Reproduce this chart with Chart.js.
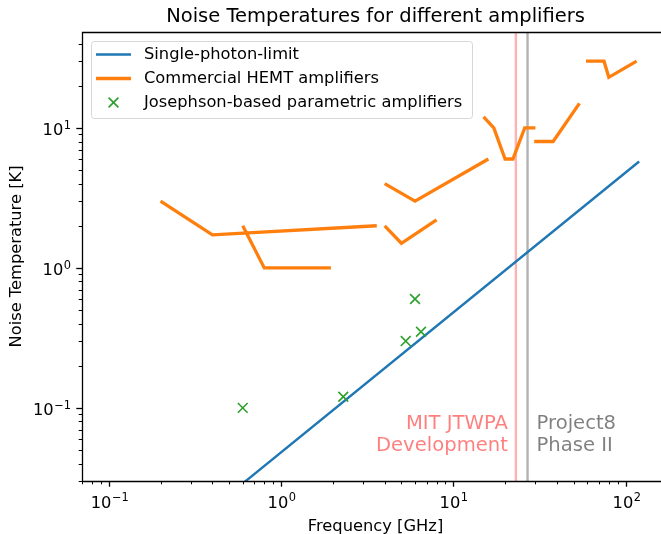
<!DOCTYPE html>
<html>
<head>
<meta charset="utf-8">
<script src="https://cdn.jsdelivr.net/npm/chart.js@4/dist/chart.umd.min.js"></script>
<style>
  html, body { margin: 0; padding: 0; background: #fff; overflow: hidden; }
</style>
</head>
<body>
<canvas id="myNoiseChart" width="661" height="534"></canvas>
<script>
const photonFreq = [0.5, 120];
const photonTemp = [0.024, 5.76];

// HEMT amplifiers, a null ends one amplifier's curve
const hemtFreq = [0.2, 0.4, 3.6, null, 0.6, 0.8, 1.95, null, 4, 6, 16, null, 4, 5, 8, null,
  15, 17.2, 20, 22.2, 26, 30, null, 29.5, 38, 54, null, 59, 75, 80, 116];
const hemtTemp = [3, 1.72, 2, null, 2, 1, 1, null, 4, 3, 6, null, 2, 1.5, 2.2, null,
  12, 10, 6, 6, 10, 10, null, 8, 8, 15, null, 30, 30, 23, 30];

const jpaFreq = [0.6, 2.3, 6, 5.3, 6.5];
const jpaTemp = [0.1, 0.12, 0.6, 0.3, 0.35];

const mitFreq = 23.1;
const project8Freq = 27;
const mitText = ["MIT JTWPA", "Development"];
const project8Text = ["Project8", "Phase II"];

// the axes run a little past the right edge of the picture
const xRange = [0.07, 160.7];
const xFullMax = 179;
const yRange = [0.03, 48.5];

const chartTitle = "Noise Temperatures for different amplifiers";
const xTitle = "Frequency [GHz]";
const yTitle = "Noise Temperature [K]";

const FONT = "'DejaVu Sans', sans-serif";
Chart.defaults.font.family = FONT;
Chart.defaults.color = "#000";

function toPoints(xs, ys) {
  let lastX = xs[0];
  return xs.map((x, i) => {
    if (x === null) return { x: lastX, y: null };
    lastX = x;
    return { x: x, y: ys[i] };
  });
}

function decade(v) {
  const e = Math.log10(v);
  const r = Math.round(e);
  return Math.abs(e - r) < 1e-9 ? r : null;
}

function isLogTick(v) {
  const e = Math.floor(Math.log10(v) + 1e-9);
  const s = v / Math.pow(10, e);
  return Math.abs(s - Math.round(s)) < 1e-6;
}

// draws "10" with a raised exponent; align is "center" or "right"
function drawPower(ctx, exp, x, baseline, align) {
  const fs = 16.3, sfs = 11.4;
  const supText = String(exp).replace("-", "\u2212");
  ctx.font = fs + "px " + FONT;
  const w1 = ctx.measureText("10").width;
  ctx.font = sfs + "px " + FONT;
  const w2 = ctx.measureText(supText).width;
  const start = align === "center" ? x - (w1 + w2) / 2 : x - (w1 + w2);
  ctx.textAlign = "left";
  ctx.textBaseline = "alphabetic";
  ctx.font = fs + "px " + FONT;
  ctx.fillText("10", start, baseline);
  ctx.font = sfs + "px " + FONT;
  ctx.fillText(supText, start + w1 + 0.5, baseline - 6.2);
}

const decorPlugin = {
  id: "decor",
  afterDraw(chart) {
    const ctx = chart.ctx;
    const a = chart.chartArea;
    const xs = chart.scales.x;
    const ys = chart.scales.y;
    const fullRight = xs.getPixelForValue(xFullMax);
    const midX = (a.left + fullRight) / 2;
    ctx.save();

    // ticks and tick labels
    ctx.strokeStyle = "#000";
    ctx.fillStyle = "#000";
    xs.ticks.forEach(t => {
      if (!isLogTick(t.value) || t.value < xRange[0] || t.value > xRange[1]) return;
      const d = decade(t.value);
      const px = Math.round(xs.getPixelForValue(t.value)) + 0.5;
      ctx.lineWidth = d !== null ? 1.3 : 1;
      ctx.beginPath();
      ctx.moveTo(px, a.bottom);
      ctx.lineTo(px, a.bottom + (d !== null ? 5.7 : 3.3));
      ctx.stroke();
      if (d !== null) drawPower(ctx, d, px, 507.5, "center");
    });
    ys.ticks.forEach(t => {
      if (!isLogTick(t.value) || t.value < yRange[0] || t.value > yRange[1]) return;
      const d = decade(t.value);
      const py = Math.round(ys.getPixelForValue(t.value)) + 0.5;
      ctx.lineWidth = d !== null ? 1.3 : 1;
      ctx.beginPath();
      ctx.moveTo(a.left, py);
      ctx.lineTo(a.left - (d !== null ? 5.7 : 3.3), py);
      ctx.stroke();
      if (d !== null) drawPower(ctx, d, a.left - 11.5, py + 6.3, "right");
    });

    // spines (the right one is outside the picture)
    ctx.lineWidth = 1.3;
    ctx.strokeStyle = "#000";
    ctx.beginPath();
    ctx.moveTo(a.right + 5, a.top + 0.5);
    ctx.lineTo(a.left + 0.5, a.top + 0.5);
    ctx.lineTo(a.left + 0.5, a.bottom + 0.5);
    ctx.lineTo(a.right + 5, a.bottom + 0.5);
    ctx.stroke();

    // annotations next to the vertical lines
    ctx.font = "19.6px " + FONT;
    ctx.textBaseline = "alphabetic";
    const mx = xs.getPixelForValue(mitFreq);
    const p8x = xs.getPixelForValue(project8Freq);
    ctx.fillStyle = "rgba(255,0,0,0.5)";
    ctx.textAlign = "right";
    mitText.forEach((s, i) => ctx.fillText(s, mx - 8, 428.5 + i * 22.5));
    ctx.fillStyle = "rgba(0,0,0,0.5)";
    ctx.textAlign = "left";
    project8Text.forEach((s, i) => ctx.fillText(s, p8x + 9, 428.5 + i * 22.5));

    // legend
    const lx = 91.5, ly = 41.5, lw = 381, lh = 77;
    ctx.beginPath();
    ctx.roundRect(lx, ly, lw, lh, 3);
    ctx.fillStyle = "rgba(255,255,255,0.8)";
    ctx.fill();
    ctx.lineWidth = 1;
    ctx.strokeStyle = "#d6d6d6";
    ctx.stroke();
    ctx.font = "16.3px " + FONT;
    ctx.textAlign = "left";
    ctx.textBaseline = "middle";
    chart.data.datasets.slice(0, 3).forEach((ds, i) => {
      const ry = 54.5 + i * 24;
      ctx.strokeStyle = ds.borderColor;
      if (ds.showLine === false) {
        ctx.lineWidth = ds.pointBorderWidth;
        const r = 4.9;
        ctx.beginPath();
        ctx.moveTo(113.5 - r, ry - r); ctx.lineTo(113.5 + r, ry + r);
        ctx.moveTo(113.5 - r, ry + r); ctx.lineTo(113.5 + r, ry - r);
        ctx.stroke();
      } else {
        ctx.lineWidth = ds.borderWidth;
        ctx.beginPath();
        ctx.moveTo(96, ry); ctx.lineTo(131, ry);
        ctx.stroke();
      }
      ctx.fillStyle = "#000";
      ctx.fillText(ds.label, 144, ry);
    });

    // x axis title, centred on the whole axes
    ctx.font = "16.3px " + FONT;
    ctx.textAlign = "center";
    ctx.textBaseline = "alphabetic";
    ctx.fillText(xTitle, midX, 530.5);

    // title
    ctx.font = "19.5px " + FONT;
    ctx.fillText(chartTitle, midX, 22);
    ctx.restore();
  }
};

const noiseChart = document.getElementById("myNoiseChart").getContext("2d");
let myChart1 = new Chart(noiseChart, {
  type: "line",
  data: {
    datasets: [
      {
        label: "Single-photon-limit",
        data: toPoints(photonFreq, photonTemp),
        borderColor: "#1f77b4",
        borderWidth: 2.4,
        pointRadius: 0,
        order: 3,
      },
      {
        label: "Commercial HEMT amplifiers",
        data: toPoints(hemtFreq, hemtTemp),
        borderColor: "#ff7f0e",
        borderWidth: 3.3,
        pointRadius: 0,
        spanGaps: false,
        order: 2,
      },
      {
        label: "Josephson-based parametric amplifiers",
        data: toPoints(jpaFreq, jpaTemp),
        borderColor: "#2ca02c",
        showLine: false,
        pointStyle: "crossRot",
        pointRadius: 6.9,
        pointBorderWidth: 1.6,
        pointBorderColor: "#2ca02c",
        order: 1,
      },
      {
        label: "MIT JTWPA",
        data: toPoints([mitFreq, mitFreq], yRange),
        borderColor: "rgba(255,0,0,0.3)",
        borderWidth: 2.4,
        pointRadius: 0,
        order: 10,
      },
      {
        label: "Project8",
        data: toPoints([project8Freq, project8Freq], yRange),
        borderColor: "rgba(0,0,0,0.3)",
        borderWidth: 2.4,
        pointRadius: 0,
        order: 10,
      },
    ],
  },
  options: {
    responsive: false,
    animation: false,
    devicePixelRatio: 1,
    layout: { autoPadding: false, padding: { top: 32, right: 0, left: 0, bottom: 0 } },
    plugins: {
      legend: { display: false },
      title: { display: false },
      tooltip: { enabled: false },
    },
    scales: {
      x: {
        type: "logarithmic",
        min: xRange[0],
        max: xRange[1],
        grid: { display: false, drawTicks: false },
        border: { display: false },
        ticks: { display: false },
        afterFit: (scale) => { scale.height = 53; },
      },
      y: {
        type: "logarithmic",
        min: yRange[0],
        max: yRange[1],
        grid: { display: false, drawTicks: false },
        border: { display: false },
        ticks: { display: false },
        title: { display: true, text: yTitle, font: { size: 16.3 }, color: "#000", padding: { top: 7, bottom: 0 } },
        afterFit: (scale) => { scale.width = 82; },
      },
    },
  },
  plugins: [decorPlugin],
});
</script>
</body>
</html>
